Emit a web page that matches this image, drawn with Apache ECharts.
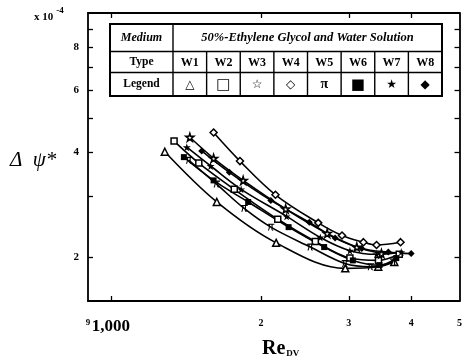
<!DOCTYPE html>
<html>
<head>
<meta charset="utf-8">
<script src="https://cdn.jsdelivr.net/npm/echarts@6/dist/echarts.min.js"></script>
<style>
  html, body { margin: 0; padding: 0; background: #fff; }
  #chart { width: 465px; height: 362px; }
</style>
</head>
<body>
<div id="chart"></div>
<script>
// Pressure-drop coefficient (x 10^-4) against Reynolds number Re_DV
// for eight wick types W1..W8 in 50% ethylene glycol / water.
const typeNames = ['W1', 'W2', 'W3', 'W4', 'W5', 'W6', 'W7', 'W8'];
const legendGlyphs = ['\u25B3', '\u25A1', '\u2606', '\u25C7', '\u03C0', '\u25A0', '\u2605', '\u25C6'];

const reW1 = [1283, 1631, 2145, 2951, 3436, 3701];
const psiW1 = [4.01, 2.88, 2.20, 1.86, 1.88, 1.94];
const reW2 = [1339, 1501, 1768, 2161, 2570, 3015, 3440, 3786];
const psiW2 = [4.30, 3.72, 3.13, 2.57, 2.22, 1.99, 1.96, 2.04];
const reW3 = [1440, 1607, 1842, 2241, 2715, 3112, 3487];
const psiW3 = [4.41, 3.84, 3.32, 2.75, 2.34, 2.14, 2.05];
const reW4 = [1607, 1815, 2138, 2605, 2907, 3209, 3409, 3809];
const psiW4 = [4.55, 3.77, 3.02, 2.51, 2.31, 2.21, 2.17, 2.21];
const reW5 = [1434, 1629, 1851, 2093, 2512, 2947, 3317, 3684];
const psiW5 = [3.79, 3.24, 2.76, 2.44, 2.14, 1.92, 1.88, 1.94];
const reW6 = [1401, 1607, 1885, 2272, 2677, 3056, 3456, 3735];
const psiW6 = [3.87, 3.32, 2.88, 2.44, 2.14, 1.96, 1.90, 1.99];
const reW7 = [1420, 1585, 1825, 2251, 2630, 3015, 3409, 3821];
const psiW7 = [4.13, 3.65, 3.13, 2.62, 2.28, 2.09, 2.04, 2.07];
const reW8 = [1521, 1728, 2093, 2500, 2816, 3184, 3600, 4000];
const psiW8 = [4.03, 3.50, 2.91, 2.52, 2.27, 2.12, 2.07, 2.05];

const xTickValues = [900, 1000, 2000, 3000, 4000, 5000];
const xTickLabels = ['9', '1,000', '2', '3', '4', '5'];
const yTickValues = [2, 3, 4, 5, 6, 7, 8, 9];
const yLabelValues = [2, 4, 6, 8];
const yTickLabels = ['2', '4', '6', '8'];

const SERIF = '"Liberation Serif", "DejaVu Serif", serif';
const STAR = 'path://M50,0 L61,35 L98,35 L68,57 L79,91 L50,70 L21,91 L32,57 L2,35 L39,35 Z';
const PI = 'path://M0,8 Q4,0 14,0 L100,0 L100,16 L76,16 L74,80 Q74,92 86,88 L86,100 Q60,106 58,82 L60,16 L40,16 Q38,70 24,100 L8,100 Q24,70 24,16 L14,16 Q6,16 4,22 Z';

const markerStyles = [
  { symbol: 'triangle', hollow: true, size: 7 },
  { symbol: 'rect', hollow: true, size: 6 },
  { symbol: STAR, hollow: true, size: 8 },
  { symbol: 'diamond', hollow: true, size: 7 },
  { symbol: PI, hollow: false, size: 7 },
  { symbol: 'rect', hollow: false, size: 6 },
  { symbol: STAR, hollow: false, size: 8 },
  { symbol: 'diamond', hollow: false, size: 7 }
];

const reSets = [reW1, reW2, reW3, reW4, reW5, reW6, reW7, reW8];
const psiSets = [psiW1, psiW2, psiW3, psiW4, psiW5, psiW6, psiW7, psiW8];

const series = typeNames.map((name, i) => ({
  name: name,
  type: 'line',
  xAxisIndex: 0,
  yAxisIndex: 0,
  smooth: 0.35,
  data: reSets[i].map((re, k) => [re, psiSets[i][k]]),
  symbol: markerStyles[i].symbol,
  symbolSize: markerStyles[i].size,
  showSymbol: true,
  lineStyle: { color: '#000', width: 1.6 },
  itemStyle: {
    color: markerStyles[i].hollow ? '#fff' : '#000',
    borderColor: '#000',
    borderWidth: markerStyles[i].hollow ? 1.5 : 0
  },
  emphasis: { disabled: true },
  z: 3
}));

function nearestIndex(list, v) {
  let best = 0;
  list.forEach((t, i) => {
    if (Math.abs(Math.log(t) - Math.log(v)) < Math.abs(Math.log(list[best]) - Math.log(v))) best = i;
  });
  return best;
}

const frameLine = { show: true, onZero: false, lineStyle: { color: '#000', width: 1.8 } };

function xAxisDef(top) {
  return {
    type: 'log',
    logBase: 10,
    min: 900,
    max: 5000,
    position: top ? 'top' : 'bottom',
    gridIndex: 0,
    axisLine: frameLine,
    axisTick: {
      show: true, inside: true, length: 5,
      customValues: xTickValues.slice(1, 5),
      lineStyle: { color: '#000', width: 1.3 }
    },
    axisLabel: top ? { show: false } : {
      show: true,
      customValues: xTickValues,
      margin: 17,
      color: '#000',
      formatter: function (v) {
        const i = nearestIndex(xTickValues, v);
        if (i === 0) return '{sm|' + xTickLabels[i] + '}';
        if (i === 1) return '{big|' + xTickLabels[i] + '}';
        return '{mid|' + xTickLabels[i] + '}';
      },
      rich: {
        sm: { fontFamily: SERIF, fontWeight: 'bold', fontSize: 9, color: '#000' },
        big: { fontFamily: SERIF, fontWeight: 'bold', fontSize: 17, color: '#000' },
        mid: { fontFamily: SERIF, fontWeight: 'bold', fontSize: 10, color: '#000' }
      }
    },
    splitLine: { show: false },
    minorTick: { show: false },
    minorSplitLine: { show: false }
  };
}

function yAxisDef(right) {
  return {
    type: 'log',
    logBase: 10,
    min: 1.5,
    max: 10,
    position: right ? 'right' : 'left',
    gridIndex: 0,
    axisLine: frameLine,
    axisTick: {
      show: true, inside: true, length: 5,
      customValues: yTickValues,
      lineStyle: { color: '#000', width: 1.3 }
    },
    axisLabel: right ? { show: false } : {
      show: true,
      customValues: yLabelValues,
      margin: 9,
      color: '#000',
      fontFamily: SERIF,
      fontWeight: 'bold',
      fontSize: 11,
      formatter: function (v) {
        return yTickLabels[nearestIndex(yLabelValues, v)];
      }
    },
    splitLine: { show: false },
    minorTick: { show: false },
    minorSplitLine: { show: false }
  };
}

// Legend table drawn above the curves
function tableGraphics() {
  const x0 = 110, x1 = 442, c1 = 173;
  const y0 = 24, r1 = 51.5, r2 = 72.5, y3 = 96;
  const w = (x1 - c1) / typeNames.length;
  const els = [];
  const line = (ax, ay, bx, by, lw) => ({
    type: 'line', shape: { x1: ax, y1: ay, x2: bx, y2: by },
    style: { stroke: '#000', lineWidth: lw }, z: 10
  });
  const txt = (x, y, s, opts) => ({
    type: 'text', x: x, y: y, z: 11,
    style: Object.assign({
      text: s, fill: '#000', fontFamily: SERIF, fontWeight: 'bold', fontSize: 11.5,
      align: 'center', verticalAlign: 'middle'
    }, opts || {})
  });
  els.push({ type: 'rect', shape: { x: x0, y: y0, width: x1 - x0, height: y3 - y0 },
    style: { fill: '#fff', stroke: '#000', lineWidth: 2 }, z: 9 });
  els.push(line(x0, r1, x1, r1, 1.4));
  els.push(line(x0, r2, x1, r2, 1.4));
  els.push(line(c1, y0, c1, y3, 1.4));
  for (let i = 1; i < typeNames.length; i++) {
    els.push(line(c1 + i * w, r1, c1 + i * w, y3, 1.4));
  }
  els.push(txt((x0 + c1) / 2, (y0 + r1) / 2, 'Medium', { fontStyle: 'italic', fontSize: 12 }));
  els.push(txt((c1 + x1) / 2, (y0 + r1) / 2, '50%-Ethylene Glycol and Water Solution', { fontStyle: 'italic', fontSize: 12.5 }));
  els.push(txt((x0 + c1) / 2, (r1 + r2) / 2, 'Type'));
  els.push(txt((x0 + c1) / 2, (r2 + y3) / 2, 'Legend'));
  typeNames.forEach((n, i) => {
    const cx = c1 + (i + 0.5) * w;
    els.push(txt(cx, (r1 + r2) / 2 + 0.5, n, { fontSize: 12 }));
    els.push(txt(cx, (r2 + y3) / 2 + 0.5, legendGlyphs[i], {
      fontFamily: i === 4 ? SERIF : '"DejaVu Sans", sans-serif',
      fontSize: i === 4 ? 14 : (i === 1 || i === 5 ? 15 : 12),
      fontWeight: i === 4 ? 'bold' : 'normal'
    }));
  });
  return els;
}

const chart = echarts.init(document.getElementById('chart'), null, { renderer: 'canvas' });
chart.setOption({
  animation: false,
  backgroundColor: '#fff',
  grid: { left: 88, right: 1, top: 13, bottom: 61, containLabel: false },
  xAxis: [xAxisDef(false), xAxisDef(true)],
  yAxis: [yAxisDef(false), yAxisDef(true)],
  series: series,
  graphic: tableGraphics().concat([
    {
      type: 'text', left: 34, top: 6, z: 11,
      style: {
        text: '{a|x 10}{b|-4}',
        rich: {
          a: { fontFamily: SERIF, fontWeight: 'bold', fontSize: 11, fill: '#000', padding: [6, 0, 0, 0] },
          b: { fontFamily: SERIF, fontWeight: 'bold', fontSize: 9, fill: '#000', verticalAlign: 'top', padding: [0, 0, 0, 3] }
        }
      }
    },
    {
      type: 'text', x: 10, y: 160, z: 11,
      style: {
        text: '\u0394  \u03C8*', fill: '#000', fontFamily: SERIF, fontStyle: 'italic',
        fontSize: 21, align: 'left', verticalAlign: 'middle'
      }
    },
    {
      type: 'text', x: 262, y: 339, z: 11,
      style: {
        text: '{r|Re}{s|DV}',
        rich: {
          r: { fontFamily: SERIF, fontWeight: 'bold', fontSize: 20, fill: '#000' },
          s: { fontFamily: SERIF, fontWeight: 'bold', fontSize: 9, fill: '#000', padding: [10, 0, 0, 1] }
        }
      }
    }
  ])
});
</script>
</body>
</html>
